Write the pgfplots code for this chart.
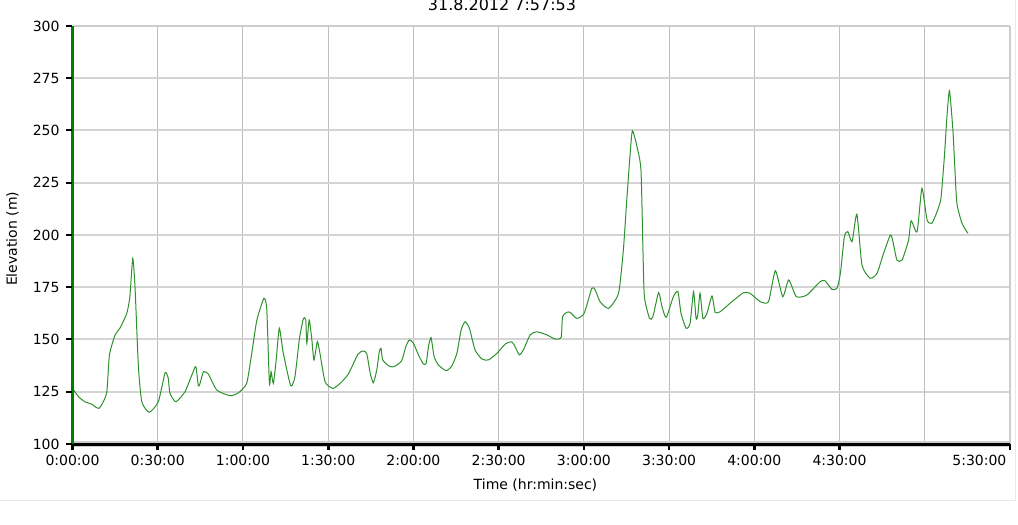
\documentclass[border=0pt]{standalone}
\usepackage{fontspec}
\setmainfont{DejaVu Sans}
\usepackage{pgfplots}
\pgfplotsset{compat=1.18}
\definecolor{curvegreen}{RGB}{45,145,45}
\definecolor{axisgreen}{RGB}{0,128,0}
\definecolor{vgrid}{RGB}{190,190,190}
\definecolor{hgrid}{RGB}{212,212,212}
\definecolor{framegray}{RGB}{205,205,205}
\definecolor{outergray}{RGB}{232,232,232}
\definecolor{tickblack}{RGB}{0,0,0}
\begin{document}
\begin{tikzpicture}
\path[use as bounding box] (0,0) rectangle (763.5pt,393.75pt);
\begin{axis}[
  at={(54.375pt,60.75pt)}, anchor=south west,
  scale only axis, width=703.125pt, height=313.5pt,
  xmin=0, xmax=330, ymin=100, ymax=300,
  ytick={100,125,...,300},
  xtick={0,30,...,270},
  xticklabels={0:00:00,0:30:00,1:00:00,1:30:00,2:00:00,2:30:00,3:00:00,3:30:00,4:00:00,4:30:00},
  extra x ticks={330}, extra x tick labels={5:30:00},
  extra x tick style={grid=none, xticklabel style={anchor=north east, xshift=-2.5pt}},
  grid=major,
  x grid style={color=vgrid, line width=0.75pt},
  y grid style={color=hgrid, line width=1.5pt},
  axis line style={draw=none},
  tick align=outside,
  major tick length=3.6pt,
  tick style={draw=none},
  /pgf/number format/assume math mode=true,
  tick label style={font=\fontsize{10.5pt}{12pt}\selectfont, inner sep=0pt},
  yticklabel style={anchor=east, xshift=-5.9pt},
  xticklabel style={anchor=north, yshift=-4.3pt},
  clip=false,
]
\draw[vgrid, line width=0.75pt] (axis cs:300,100) -- (axis cs:300,300);
\draw[framegray, line width=2.2pt] (axis cs:0,300) -- (axis cs:330,300);
\draw[framegray, line width=2.2pt] (axis cs:330,100) -- (axis cs:330,300);
\addplot[curvegreen, line width=0.75pt, smooth, tension=0.35, mark=none] coordinates {
(0,126.6) (2.2,122.5) (4.4,120.2) (6.8,119.0) (9.4,117.1) (12.0,124.3) (13.0,142.6)
(15.0,152.2) (16.7,155.4) (19.1,162.5) (20.2,170.5) (21.2,188.8) (22.0,175.3)
(23.2,137.0) (24.4,120.2) (27.0,115.2) (30.2,120.2) (32.6,134.1) (33.7,131.4)
(34.3,124.3) (36.4,120.2) (39.6,125.0) (42.0,133.0) (43.4,137.0) (44.3,127.8)
(44.9,129.0) (46.1,134.6) (47.8,133.5) (50.8,125.8) (55.5,123.1) (58.4,124.5)
(61.3,129.0) (63.1,143.4) (64.9,159.3) (67.4,169.7) (68.4,164.1) (69.3,129.0)
(69.9,134.6) (70.7,129.0) (71.7,140.2) (72.8,155.4) (74.2,143.4) (76.8,127.9)
(78.3,132.2) (79.9,150.6) (81.3,160.1) (82.1,159.3) (82.5,148.2) (83.3,159.3)
(84.2,150.6) (85.0,140.2) (86.2,149.0) (87.1,143.4) (88.9,129.8) (91.6,126.6)
(94.2,129.0) (97.1,133.5) (100.5,143.0) (102.4,144.5) (103.6,143.1) (104.8,133.8)
(105.9,129.3) (107.1,135.4) (108.0,144.2) (108.6,145.8) (109.2,140.2) (111.8,137.0)
(113.6,137.3) (115.9,139.9) (117.4,146.9) (118.6,149.8) (120.0,148.2) (121.8,142.6)
(123.5,138.3) (124.5,138.6) (125.3,146.6) (126.2,150.9) (127.3,141.8) (128.8,137.8)
(131.5,135.1) (133.5,137.3) (135.3,143.4) (136.8,154.5) (138.2,158.5) (139.7,155.4)
(141.7,145.0) (144.1,140.7) (146.4,140.2) (149.4,143.4) (152.3,147.8) (154.6,148.9)
(155.8,146.6) (157.3,142.6) (158.7,145.0) (161.1,152.2) (163.4,153.7) (167.0,152.2)
(169.9,150.2) (172.0,151.1) (172.5,160.9) (174.0,163.0) (175.2,163.0) (177.5,160.1)
(180.1,162.5) (182.8,174.5) (184.0,173.7) (185.7,168.1) (188.7,164.9) (192.2,172.1)
(193.9,192.8) (195.1,216.7) (196.3,239.1) (197.1,249.9) (198.7,242.3) (200.1,231.1)
(200.8,192.8) (201.3,170.5) (203.1,160.1) (204.3,160.9) (206.3,172.4) (207.5,165.7)
(209.0,160.6) (211.5,170.5) (213.1,172.9) (214.2,162.5) (216.0,155.4) (217.4,157.8)
(218.6,172.9) (219.5,160.1) (220.1,161.7) (220.9,172.1) (221.9,160.1) (223.3,162.5)
(225.1,170.8) (226.2,163.0) (228.0,163.3) (232.1,168.1) (236.2,172.4) (238.5,172.1)
(242.1,168.1) (245.0,168.1) (247.4,182.9) (250.0,170.5) (252.1,178.5) (254.8,170.5)
(258.5,171.3) (263.2,177.7) (264.9,178.1) (267.3,174.0) (269.1,174.5) (270.3,181.7)
(271.7,199.2) (272.9,201.6) (274.4,196.8) (276.1,210.0) (277.9,185.6) (280.8,179.3)
(283.2,181.7) (285.5,191.2) (287.9,200.0) (288.8,196.8) (290.2,188.0) (292.0,188.0)
(294.3,197.6) (295.2,206.8) (297.3,201.6) (299.0,222.3) (300.8,207.2) (302.5,205.6)
(304.3,211.1) (305.7,217.6) (306.9,237.5) (307.8,256.6) (308.7,269.0) (309.9,250.2)
(310.5,234.3) (311.3,215.2) (313.1,205.6) (315.2,200.8)
};
\end{axis}
% axis frame and tick marks (picture coordinates: axis box from (54.375pt,60.75pt), 703.125pt x 313.5pt)
\fill[framegray] (54.375pt,58.6pt) rectangle (757.5pt,62.8pt);
\fill[tickblack] (54.375pt,59.4pt) rectangle (757.5pt,61.8pt);
\fill[axisgreen] (53.4pt,59.4pt) rectangle (55.3pt,374.25pt);
\foreach \k in {0,...,8} {
  \fill[tickblack] (49.6pt,60.0pt+\k*39.1875pt) rectangle (54pt,61.5pt+\k*39.1875pt);
}
\foreach \k in {0,...,9,11} {
  \fill[tickblack] (53.4pt+\k*63.92045pt,56.0pt) rectangle (55.4pt+\k*63.92045pt,60.75pt);
}
\draw[outergray, line width=0.75pt] (0,18pt) -- (761.5pt,18pt) -- (761.5pt,393.75pt);
\node[anchor=base, inner sep=0pt, font=\fontsize{12pt}{14pt}\selectfont] at (376.5pt,385.5pt) {31.8.2012 7:57:53};
\node[anchor=base, inner sep=0pt, font=\fontsize{10.5pt}{12pt}\selectfont] at (401.6pt,26.25pt) {Time (hr:min:sec)};
\node[rotate=90, inner sep=0pt, font=\fontsize{10.5pt}{12pt}\selectfont] at (9.4pt,214.6pt) {Elevation (m)};
\end{tikzpicture}
\end{document}
